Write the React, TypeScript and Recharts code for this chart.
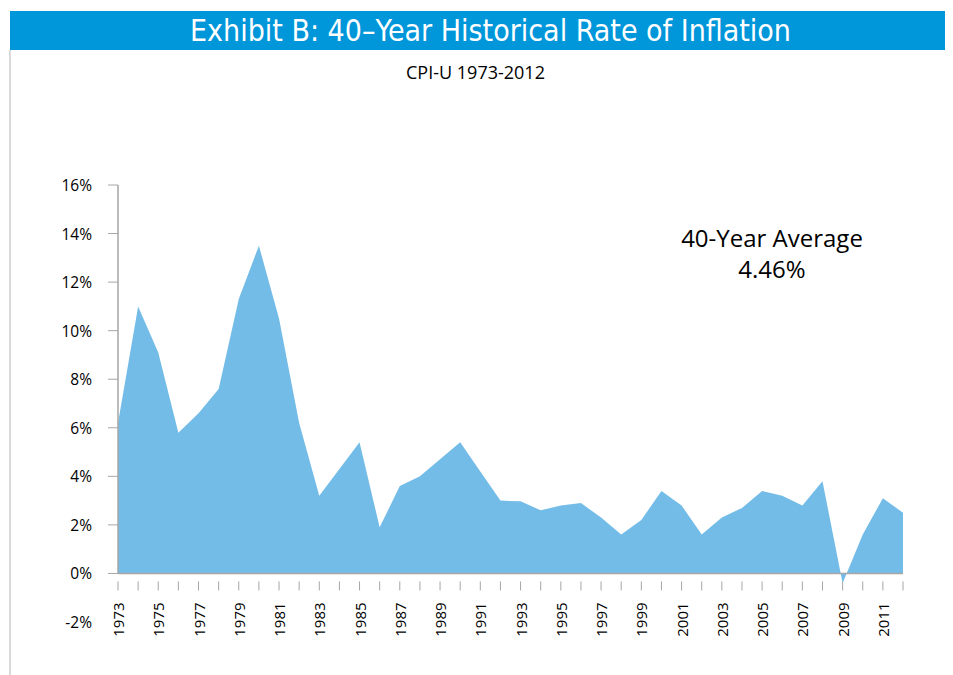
import React from "react";
import { AreaChart, Area, XAxis, YAxis, ReferenceLine } from "recharts";

const years = [
  "1973", "1974", "1975", "1976", "1977", "1978", "1979", "1980", "1981", "1982",
  "1983", "1984", "1985", "1986", "1987", "1988", "1989", "1990", "1991", "1992",
  "1993", "1994", "1995", "1996", "1997", "1998", "1999", "2000", "2001", "2002",
  "2003", "2004", "2005", "2006", "2007", "2008", "2009", "2010", "2011", "2012",
];

const inflation = [
  6.2, 11.0, 9.1, 5.8, 6.6, 7.6, 11.3, 13.5, 10.5, 6.2,
  3.2, 4.3, 5.4, 1.9, 3.6, 4.0, 4.7, 5.4, 4.2, 3.0,
  2.97, 2.6, 2.8, 2.9, 2.3, 1.6, 2.2, 3.4, 2.8, 1.6,
  2.3, 2.7, 3.4, 3.2, 2.8, 3.8, -0.4, 1.6, 3.1, 2.5,
];

const yTicks = [-2, 0, 2, 4, 6, 8, 10, 12, 14, 16];

const data = years.map((year, i) => ({ year, rate: inflation[i] }));

const AXIS = "#a6a6a6";
const FILL = "#74bce8";
const FONT = "'Open Sans', sans-serif";

const W = 945;
const H = 660;
const margin = { top: 177, right: 50, left: 60, bottom: 16 };
const X_AXIS_H = 30;
const Y_MIN = -2;
const Y_MAX = 16;
// distance from the plot bottom (-2%) up to the 0% line
const plotH = H - margin.top - margin.bottom - X_AXIS_H;
const zeroShift = (plotH * (0 - Y_MIN)) / (Y_MAX - Y_MIN);

const YearTick = (props: any) => {
  const { x, y, payload, index } = props;
  const top = y - zeroShift;
  return (
    <g>
      <line x1={x} x2={x} y1={top} y2={top + 9} stroke={AXIS} strokeWidth={1} />
      {index % 2 === 0 && (
        <text
          x={x}
          y={top + 21}
          transform={`rotate(-90 ${x} ${top + 21})`}
          textAnchor="end"
          dominantBaseline="central"
          fontSize={15}
          fontFamily={FONT}
          fill="#000"
        >
          {payload.value}
        </text>
      )}
    </g>
  );
};

const PctTick = (props: any) => {
  const { x, y, payload } = props;
  return (
    <g>
      {payload.value >= 0 && (
        <line x1={x - 2} x2={x + 8} y1={y} y2={y} stroke={AXIS} strokeWidth={1} />
      )}
      <text
        x={x - 18}
        y={y}
        textAnchor="end"
        dominantBaseline="central"
        fontSize={15.5}
        fontFamily={FONT}
        fill="#000"
      >
        {payload.value}%
      </text>
    </g>
  );
};

export default function App() {
  return (
    <div style={{ position: "relative", width: W, height: 667, background: "#fff" }}>
      <div
        style={{
          position: "absolute",
          left: 2,
          top: 3,
          width: W - 2,
          height: 39,
          background: "#0096da",
          color: "#fff",
          fontFamily: "'Liberation Sans Narrow', 'DejaVu Sans Condensed', sans-serif",
          fontSize: 30,
          lineHeight: "39px",
          textAlign: "center",
          paddingLeft: 18,
          boxSizing: "border-box",
        }}
      >
        Exhibit B: 40–Year Historical Rate of Inflation
      </div>
      <div
        style={{
          position: "absolute",
          left: 1,
          top: 42,
          width: 2,
          height: 625,
          background: "#d9d9d9",
        }}
      />
      <div
        style={{
          position: "absolute",
          left: 0,
          top: 52,
          width: W - 10,
          textAlign: "center",
          fontFamily: FONT,
          fontSize: 18,
          color: "#000",
        }}
      >
        CPI-U 1973-2012
      </div>
      <div
        style={{
          position: "absolute",
          left: 644,
          top: 214,
          width: 240,
          textAlign: "center",
          fontFamily: FONT,
          fontSize: 24,
          lineHeight: "31px",
          color: "#000",
        }}
      >
        <div>40-Year Average</div>
        <div>4.46%</div>
      </div>
      <div style={{ position: "absolute", left: 0, top: 0 }}>
        <AreaChart width={W} height={H} data={data} margin={margin}>
          <XAxis
            dataKey="year"
            height={X_AXIS_H}
            interval={0}
            axisLine={false}
            tickLine={false}
            tick={<YearTick />}
          />
          <YAxis
            width={50}
            domain={[Y_MIN, Y_MAX]}
            ticks={yTicks}
            interval={0}
            axisLine={false}
            tickLine={false}
            tick={<PctTick />}
          />
          <Area
            type="linear"
            dataKey="rate"
            baseValue={0}
            stroke="none"
            fill={FILL}
            fillOpacity={1}
            isAnimationActive={false}
          />
          <ReferenceLine y={0} stroke={AXIS} strokeWidth={1.5} />
          <ReferenceLine
            segment={[
              { x: years[0], y: 0 },
              { x: years[0], y: Y_MAX },
            ]}
            stroke={AXIS}
            strokeWidth={1.5}
          />
        </AreaChart>
      </div>
    </div>
  );
}
